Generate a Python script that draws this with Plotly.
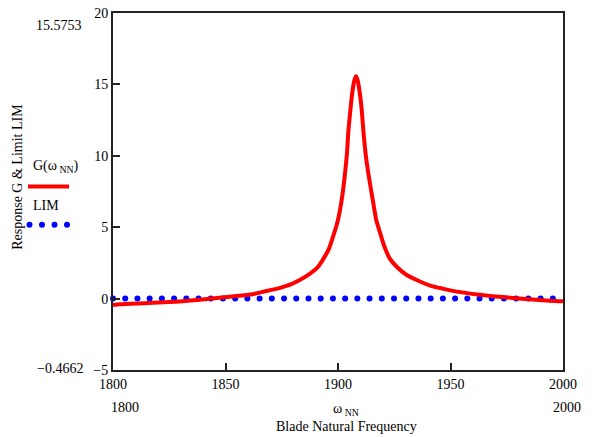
import numpy as np
import plotly.graph_objects as go

# Blade natural frequency (x) and response G (y)
freq = [1800, 1803, 1816, 1831, 1844, 1853, 1862, 1867, 1873, 1876, 1879,
        1883, 1887.6, 1891, 1893.5, 1896, 1897.9, 1899.5, 1900.9, 1902,
        1903.1, 1904, 1904.6, 1905.5, 1906.5, 1907.3, 1908, 1908.7, 1909.5,
        1910.5, 1911.3, 1912.3, 1913.5, 1915.7, 1917, 1918.7, 1920.5, 1923.1,
        1926, 1930.5, 1935, 1941, 1947, 1952.7, 1963, 1970, 1979, 1994, 2000]
G = [-0.45, -0.40, -0.31, -0.19, 0.0, 0.15, 0.31, 0.49, 0.70, 0.84, 1.0,
     1.3, 1.75, 2.2, 2.78, 3.5, 4.39, 5.2, 6.22, 7.3,
     8.74, 10.2, 11.7, 13.2, 14.6, 15.3, 15.575, 15.3, 14.6,
     13.3, 11.7, 10.1, 8.74, 6.68, 5.5, 4.61, 3.7, 2.78,
     2.25, 1.65, 1.3, 0.91, 0.68, 0.49, 0.27, 0.15, 0.03, -0.15, -0.19]

# Limit line (constant) sampled along the frequency range
lim_level = 0.0
lim_freq = list(np.arange(1800, 2000, 5.43))
lim_vals = [lim_level] * len(lim_freq)

x_ticks = [1800, 1850, 1900, 1950, 2000]
y_ticks = [-5, 0, 5, 10, 15, 20]
g_max_label = "15.5753"
g_min_label = "\u22120.4662"

FONT = "Liberation Serif"
L, R, T, B = 113, 29, 6, 67
W, H = 592, 437
pw, ph = W - L - R, H - T - B

def px(x):
    return (x - L) / pw

def py(y):
    return (H - B - y) / ph

fig = go.Figure()
fig.add_trace(go.Scatter(x=lim_freq, y=lim_vals, mode="markers",
                         marker=dict(color="#0000ff", size=6), showlegend=False,
                         cliponaxis=False))
fig.add_trace(go.Scatter(x=freq, y=G, mode="lines",
                         line=dict(color="#ff0000", width=4, shape="spline",
                                   smoothing=0.6),
                         showlegend=False))

ann = []
def txt(t, x, y, size=14, xanchor="center"):
    ann.append(dict(text=t, x=px(x), y=py(y), xref="paper", yref="paper",
                    showarrow=False, xanchor=xanchor, yanchor="middle",
                    font=dict(family=FONT, size=size, color="black")))

txt(g_max_label, 84, 19, xanchor="right")
txt(g_min_label, 85, 368, xanchor="right")
txt(str(x_ticks[0]), 109, 408, xanchor="left")
txt(str(x_ticks[-1]), 583, 408, xanchor="right")
txt("\u03c9<sub> NN</sub>", 346, 410)
txt("Blade Natural Frequency", 346, 428)
txt("G(\u03c9<sub> NN</sub>)", 31, 163, xanchor="left")
txt("LIM", 31, 202, xanchor="left")

ann.append(dict(text="Response G &amp; Limit LIM", x=px(18), y=py(173), xref="paper",
                yref="paper", showarrow=False, textangle=-90,
                xanchor="center", yanchor="middle",
                font=dict(family=FONT, size=14, color="black")))

shapes = [dict(type="line", xref="paper", yref="paper", x0=px(28), x1=px(69),
               y0=py(183), y1=py(183), line=dict(color="#ff0000", width=4))]
for cx in [29.5, 42, 54.5, 67]:
    shapes.append(dict(type="circle", xref="paper", yref="paper",
                       xsizemode="pixel", ysizemode="pixel",
                       xanchor=px(cx), yanchor=py(222),
                       x0=-3, x1=3, y0=-3, y1=3,
                       fillcolor="#0000ff", line=dict(width=0)))

axis_common = dict(showline=True, mirror=True, linecolor="#222", linewidth=2,
                   ticks="inside", ticklen=7, tickcolor="#222", tickwidth=1.5,
                   showgrid=False, zeroline=False,
                   tickfont=dict(family=FONT, size=14, color="black"))

fig.update_layout(
    width=W, height=H,
    margin=dict(l=L, r=R, t=T, b=B),
    paper_bgcolor="white", plot_bgcolor="white",
    xaxis=dict(range=[1800, 2000], tickvals=x_ticks,
               ticktext=[str(v) for v in x_ticks], **axis_common),
    yaxis=dict(range=[-5, 20], tickvals=y_ticks,
               ticktext=[str(v).replace("-", "\u2212") for v in y_ticks],
               **axis_common),
    annotations=ann, shapes=shapes,
)

fig.write_html("out.html")
